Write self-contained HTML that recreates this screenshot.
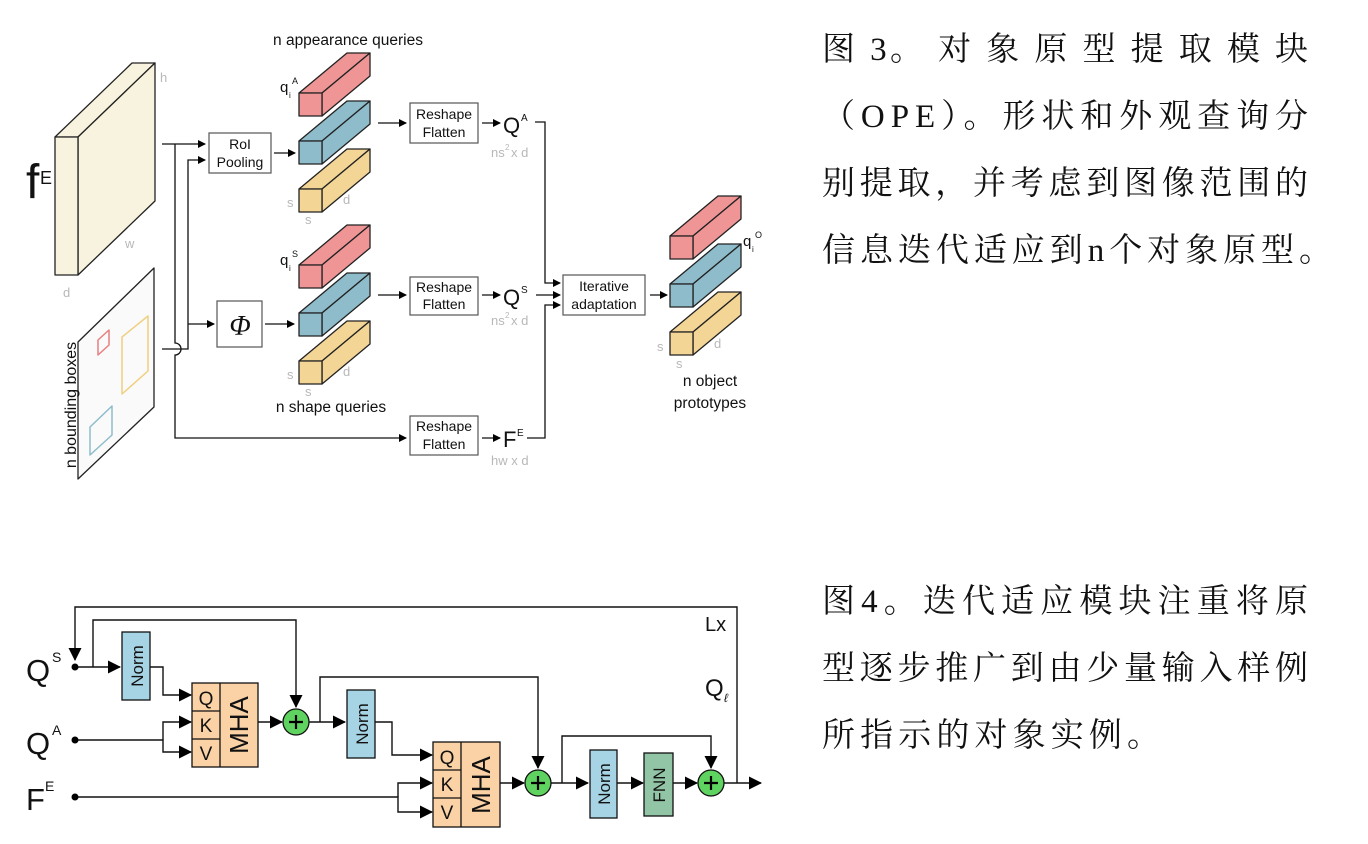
<!DOCTYPE html>
<html><head><meta charset="utf-8"><style>
html,body{margin:0;padding:0;background:#fff;}
svg{display:block;}
.s{font-family:"Liberation Sans",sans-serif;}
.g{fill:#b8b8b8;font-size:13px;}
.cn{font-family:"Liberation Serif","Noto Serif CJK SC",serif;font-size:33px;fill:#111;}
</style></head><body>
<svg width="1368" height="844" viewBox="0 0 1368 844" xmlns="http://www.w3.org/2000/svg">
<defs>
<marker id="a" markerWidth="8" markerHeight="8" refX="7" refY="4" orient="auto" markerUnits="userSpaceOnUse"><path d="M0,0 L8,4 L0,8 Z" fill="#000"/></marker>
<marker id="b" markerWidth="13" markerHeight="13" refX="12" refY="6.5" orient="auto" markerUnits="userSpaceOnUse"><path d="M0,0 L13,6.5 L0,13 Z" fill="#000"/></marker>
</defs>
<g stroke="#222" stroke-width="1.3" stroke-linejoin="round">
<polygon points="55,137 78,137 155,63 132,63" fill="#f8f3de"/>
<polygon points="78,137 155,63 155,201 78,275" fill="#f8f3de"/>
<rect x="55" y="137" width="23" height="138" fill="#f8f3de"/>
<polygon points="78,342 154,268 154,407 78,479" fill="#fafafa"/>
<polygon points="98,340 109,330 109,345 98,355" fill="none" stroke="#e88080" stroke-width="1.5"/>
<polygon points="122,337 148,316 148,371 122,394" fill="none" stroke="#f0cf80" stroke-width="1.5"/>
<polygon points="90,427 112,406 112,435 90,455" fill="none" stroke="#8fbccb" stroke-width="1.5"/>
<g fill="#f09595">
<polygon points="299,93 322,93 370,53 347,53"/><polygon points="322,93 370,53 370,76 322,116"/><rect x="299" y="93" width="23" height="23"/>
<polygon points="299,265 322,265 370,225 347,225"/><polygon points="322,265 370,225 370,248 322,288"/><rect x="299" y="265" width="23" height="23"/>
<polygon points="670,236 693,236 741,196 718,196"/><polygon points="693,236 741,196 741,219 693,259"/><rect x="670" y="236" width="23" height="23"/>
</g>
<g fill="#8fbccb">
<polygon points="299,141 322,141 370,101 347,101"/><polygon points="322,141 370,101 370,124 322,164"/><rect x="299" y="141" width="23" height="23"/>
<polygon points="299,313 322,313 370,273 347,273"/><polygon points="322,313 370,273 370,296 322,336"/><rect x="299" y="313" width="23" height="23"/>
<polygon points="670,284 693,284 741,244 718,244"/><polygon points="693,284 741,244 741,267 693,307"/><rect x="670" y="284" width="23" height="23"/>
</g>
<g fill="#f3d596">
<polygon points="299,189 322,189 370,149 347,149"/><polygon points="322,189 370,149 370,172 322,212"/><rect x="299" y="189" width="23" height="23"/>
<polygon points="299,361 322,361 370,321 347,321"/><polygon points="322,361 370,321 370,344 322,384"/><rect x="299" y="361" width="23" height="23"/>
<polygon points="670,332 693,332 741,292 718,292"/><polygon points="693,332 741,292 741,315 693,355"/><rect x="670" y="332" width="23" height="23"/>
</g>
</g>
<g fill="#fff" stroke="#555" stroke-width="1.2">
<rect x="209" y="133" width="62" height="40"/>
<rect x="217" y="301" width="45" height="46"/>
<rect x="410" y="103" width="68" height="40"/>
<rect x="410" y="277" width="68" height="38"/>
<rect x="410" y="416" width="68" height="39"/>
<rect x="563" y="275" width="82" height="40"/>
</g>
<g fill="none" stroke="#111" stroke-width="1.3">
<path d="M162,144 H205" marker-end="url(#a)"/>
<path d="M175,144 V343 a6,6 0 0 1 0,12 V438 H406" marker-end="url(#a)"/>
<path d="M162,349 H188 V160 H205" marker-end="url(#a)"/>
<path d="M188,324 H214" marker-end="url(#a)"/>
<path d="M274,153 H295" marker-end="url(#a)"/>
<path d="M265,324 H294" marker-end="url(#a)"/>
<path d="M378,123 H406" marker-end="url(#a)"/>
<path d="M378,295 H406" marker-end="url(#a)"/>
<path d="M482,123 H500" marker-end="url(#a)"/>
<path d="M482,295 H500" marker-end="url(#a)"/>
<path d="M482,438 H500" marker-end="url(#a)"/>
<path d="M535,122 H545 V283 H560" marker-end="url(#a)"/>
<path d="M536,295 H560" marker-end="url(#a)"/>
<path d="M527,438 H545 V305 H560" marker-end="url(#a)"/>
<path d="M650,295 H667" marker-end="url(#a)"/>
</g>
<g class="s" fill="#111">
<text x="26" y="198" font-size="48">f</text><text x="40" y="184" font-size="18">E</text>
<text x="348" y="45" font-size="15.5" text-anchor="middle">n appearance queries</text>
<text x="331" y="412" font-size="15.5" text-anchor="middle">n shape queries</text>
<text x="240" y="149" font-size="14" text-anchor="middle">RoI</text>
<text x="240" y="167" font-size="14" text-anchor="middle">Pooling</text>
<text x="240" y="335" font-size="28" font-style="italic" text-anchor="middle" font-family="Liberation Serif,serif">Φ</text>
<text x="444" y="119" font-size="14" text-anchor="middle">Reshape</text><text x="444" y="137" font-size="14" text-anchor="middle">Flatten</text>
<text x="444" y="292" font-size="14" text-anchor="middle">Reshape</text><text x="444" y="309" font-size="14" text-anchor="middle">Flatten</text>
<text x="444" y="431" font-size="14" text-anchor="middle">Reshape</text><text x="444" y="449" font-size="14" text-anchor="middle">Flatten</text>
<text x="604" y="291" font-size="14" text-anchor="middle">Iterative</text><text x="604" y="309" font-size="14" text-anchor="middle">adaptation</text>
<text x="503" y="133" font-size="22">Q</text><text x="521" y="121" font-size="10">A</text>
<text x="503" y="305" font-size="22">Q</text><text x="521" y="293" font-size="10">S</text>
<text x="503" y="447" font-size="22">F</text><text x="517" y="436" font-size="10">E</text>
<text x="280" y="92" font-size="15">q</text><text x="289" y="98" font-size="8">i</text><text x="292" y="84" font-size="9">A</text>
<text x="280" y="265" font-size="15">q</text><text x="289" y="271" font-size="8">i</text><text x="292" y="257" font-size="9">S</text>
<text x="743" y="246" font-size="15">q</text><text x="752" y="252" font-size="8">i</text><text x="755" y="238" font-size="9">O</text>
<text x="710" y="386" font-size="15.5" text-anchor="middle">n object</text>
<text x="710" y="408" font-size="15.5" text-anchor="middle">prototypes</text>
<text x="76" y="405" font-size="16" text-anchor="middle" transform="rotate(-90 76 405)">n bounding boxes</text>
</g>
<g class="s g">
<text x="160" y="82">h</text><text x="125" y="248">w</text><text x="63" y="297">d</text>
<text x="287" y="207">s</text><text x="305" y="224">s</text><text x="343" y="204">d</text>
<text x="287" y="379">s</text><text x="305" y="396">s</text><text x="343" y="376">d</text>
<text x="657" y="351">s</text><text x="676" y="368">s</text><text x="714" y="348">d</text>
<text x="491" y="157">ns</text><text x="505" y="150" font-size="8">2</text><text x="511" y="157">x d</text>
<text x="491" y="325">ns</text><text x="505" y="318" font-size="8">2</text><text x="511" y="325">x d</text>
<text x="491" y="465">hw x d</text>
</g>

<g stroke="#111" stroke-width="1.3">
<rect x="122" y="632" width="28" height="68" fill="#a6d4e4"/>
<rect x="347" y="690" width="28" height="68" fill="#a6d4e4"/>
<rect x="590" y="750" width="27" height="68" fill="#a6d4e4"/>
<rect x="644" y="753" width="29" height="63" fill="#92c4a6"/>
<rect x="192" y="683" width="66" height="84" fill="#fbd2a6"/>
<path d="M220,683 V767 M192,711 H220 M192,739 H220" fill="none"/>
<rect x="433" y="742" width="67" height="85" fill="#fbd2a6"/>
<path d="M461,742 V827 M433,770 H461 M433,798 H461" fill="none"/>
<circle cx="296" cy="722" r="13" fill="#5fd35f"/>
<circle cx="538" cy="783" r="13" fill="#5fd35f"/>
<circle cx="711" cy="783" r="13" fill="#5fd35f"/>
</g>
<g stroke="#000" stroke-width="2.2">
<path d="M289,722 H303 M296,715 V729 M531,783 H545 M538,776 V790 M704,783 H718 M711,776 V790"/>
</g>
<g fill="none" stroke="#111" stroke-width="1.4">
<path d="M737,783 V607 H75 V660" marker-end="url(#b)"/>
<path d="M93,667 V620 H296 V707" marker-end="url(#b)"/>
<path d="M75,667 H120" marker-end="url(#b)"/>
<path d="M150,667 H163 V695 H191" marker-end="url(#b)"/>
<path d="M75,740 H163 V752 H191" marker-end="url(#b)"/>
<path d="M163,740 V722 H191" marker-end="url(#b)"/>
<path d="M258,722 H282" marker-end="url(#b)"/>
<path d="M309,722 H345" marker-end="url(#b)"/>
<path d="M320,722 V677 H538 V768" marker-end="url(#b)"/>
<path d="M375,722 H392 V755 H432" marker-end="url(#b)"/>
<path d="M75,797 H398 V812 H432" marker-end="url(#b)"/>
<path d="M398,797 V783 H432" marker-end="url(#b)"/>
<path d="M500,783 H524" marker-end="url(#b)"/>
<path d="M551,783 H588" marker-end="url(#b)"/>
<path d="M562,783 V736 H711 V768" marker-end="url(#b)"/>
<path d="M617,783 H643" marker-end="url(#b)"/>
<path d="M673,783 H697" marker-end="url(#b)"/>
<path d="M724,783 H761" marker-end="url(#b)"/>
</g>
<g fill="#000"><circle cx="75" cy="667" r="3.5"/><circle cx="75" cy="740" r="3.5"/><circle cx="75" cy="797" r="3.5"/></g>
<g class="s" fill="#111">
<text x="26" y="681" font-size="31">Q</text><text x="52" y="662" font-size="14">S</text>
<text x="26" y="754" font-size="31">Q</text><text x="52" y="735" font-size="14">A</text>
<text x="26" y="810" font-size="31">F</text><text x="45" y="791" font-size="14">E</text>
<text x="705" y="631" font-size="20">Lx</text>
<text x="705" y="696" font-size="24">Q</text><text x="724" y="702" font-size="12" font-style="italic">ℓ</text>
<text x="206" y="705" font-size="19" text-anchor="middle">Q</text>
<text x="206" y="732" font-size="19" text-anchor="middle">K</text>
<text x="206" y="760" font-size="19" text-anchor="middle">V</text>
<text x="447" y="764" font-size="19" text-anchor="middle">Q</text>
<text x="447" y="791" font-size="19" text-anchor="middle">K</text>
<text x="447" y="819" font-size="19" text-anchor="middle">V</text>
<text transform="translate(248,725) rotate(-90)" font-size="26" text-anchor="middle">MHA</text>
<text transform="translate(490,785) rotate(-90)" font-size="26" text-anchor="middle">MHA</text>
<text transform="translate(143,666) rotate(-90)" font-size="17" text-anchor="middle">Norm</text>
<text transform="translate(368,724) rotate(-90)" font-size="17" text-anchor="middle">Norm</text>
<text transform="translate(610,784) rotate(-90)" font-size="17" text-anchor="middle">Norm</text>
<text transform="translate(665,785) rotate(-90)" font-size="17" text-anchor="middle">FNN</text>
</g>

<text class="cn" x="822" y="60" textLength="486" lengthAdjust="spacing">图 3。 对 象 原 型 提 取 模 块</text>
<text class="cn" x="822" y="127" textLength="486" lengthAdjust="spacing">（OPE）。形状和外观查询分</text>
<text class="cn" x="822" y="194" textLength="486" lengthAdjust="spacing">别提取，并考虑到图像范围的</text>
<text class="cn" x="822" y="261" textLength="510" lengthAdjust="spacing">信息迭代适应到n个对象原型。</text>
<text class="cn" x="822" y="612" textLength="486" lengthAdjust="spacing">图4。迭代适应模块注重将原</text>
<text class="cn" x="822" y="679" textLength="486" lengthAdjust="spacing">型逐步推广到由少量输入样例</text>
<text class="cn" x="822" y="746" textLength="338" lengthAdjust="spacing">所指示的对象实例。</text>
</svg>
</body></html>
